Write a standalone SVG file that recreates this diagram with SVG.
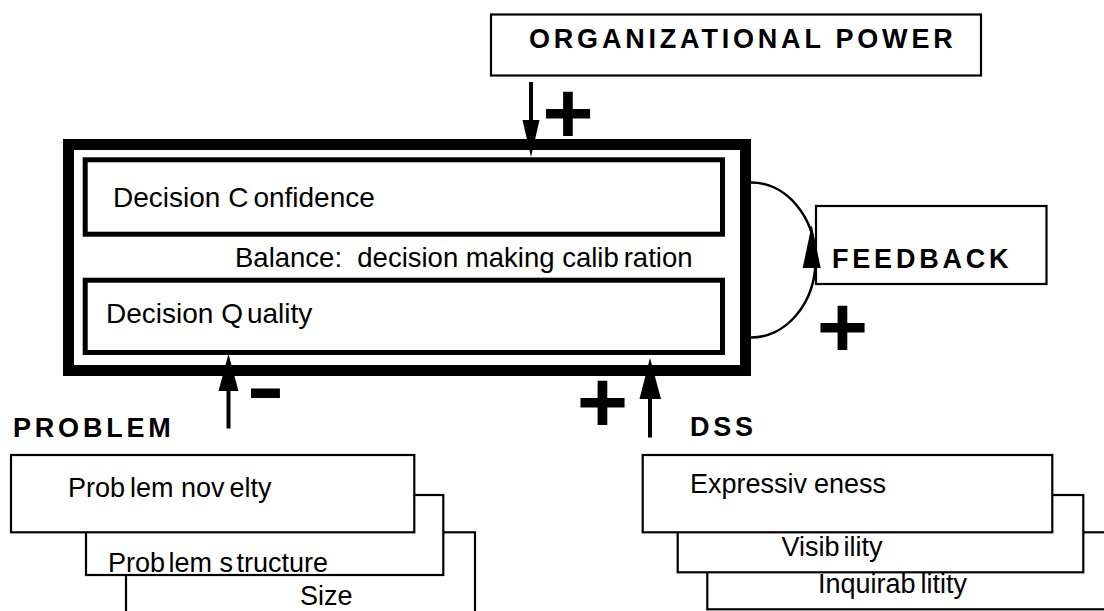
<svg xmlns="http://www.w3.org/2000/svg" width="1104" height="611" viewBox="0 0 1104 611">
  <style>
    .frame { fill: none; stroke: #000; }
    .box { fill: #fff; stroke: #000; stroke-width: 2.2; }
    .txt { font-family: "Liberation Sans", Arial, sans-serif; fill: #000; }
    .lbl { font-family: "Liberation Sans", Arial, sans-serif; font-weight: bold; font-size: 27px; letter-spacing: 3.8px; fill: #000; }
    .sign { font-family: "Liberation Sans", Arial, sans-serif; font-weight: bold; fill: #000; }
    .wire { fill: none; stroke: #000; }
  </style>
  <rect width="1104" height="611" fill="#fff"/>

  <!-- external influence: organizational power -->
  <g id="org-power">
    <rect class="box" x="491" y="14.5" width="490" height="61"/>
    <text class="lbl" x="529" y="48">ORGANIZATIONAL POWER</text>
  </g>

  <!-- central decision frame -->
  <g id="decision-frame">
    <rect class="frame" x="68.5" y="144.5" width="677" height="226" stroke-width="11"/>
    <text class="txt" x="235" y="267" font-size="27.5" xml:space="preserve">Balance:  decision making calib<tspan dx="5">ration</tspan></text>
  </g>
  <g id="decision-confidence">
    <rect class="frame" x="85.2" y="159.8" width="637.3" height="74.4" stroke-width="5"/>
    <text class="txt" x="113" y="207" font-size="28">Decision C<tspan dx="5">onfidence</tspan></text>
  </g>
  <g id="decision-quality">
    <rect class="frame" x="85.2" y="280.2" width="637.3" height="72.3" stroke-width="5"/>
    <text class="txt" x="106" y="323" font-size="28">Decision Q<tspan dx="4">uality</tspan></text>
  </g>

  <!-- feedback -->
  <g id="feedback">
    <rect class="box" x="816" y="206" width="230.5" height="78"/>
    <text class="lbl" x="832" y="268" letter-spacing="3.4">FEEDBACK</text>
  </g>

  <!-- problem characteristics -->
  <g id="problem">
    <text class="lbl" x="13" y="437">PROBLEM</text>
    <rect class="box" x="126" y="532.3" width="349" height="110"/>
    <text class="txt" x="300" y="605" font-size="27">Size</text>
    <rect class="box" x="86" y="495" width="357.3" height="80"/>
    <text class="txt" x="108" y="571.5" font-size="27">Prob<tspan dx="3.5">lem s</tspan><tspan dx="3.5">tructure</tspan></text>
    <rect class="box" x="11" y="455" width="403.3" height="77.3"/>
    <text class="txt" x="68" y="496.5" font-size="27">Prob<tspan dx="5">lem nov</tspan><tspan dx="5">elty</tspan></text>
  </g>

  <!-- DSS characteristics -->
  <g id="dss">
    <text class="lbl" x="690" y="436">DSS</text>
    <rect class="box" x="707.3" y="532.3" width="420" height="77"/>
    <text class="txt" x="818" y="592.5" font-size="27">Inquirab<tspan dx="5">litity</tspan></text>
    <rect class="box" x="677.7" y="495" width="405.6" height="77.3"/>
    <text class="txt" x="781.5" y="555.5" font-size="27">Visib<tspan dx="4">ility</tspan></text>
    <rect class="box" x="642.7" y="455" width="409.6" height="77.3"/>
    <text class="txt" x="690" y="493" font-size="27">Expressiv<tspan dx="7">eness</tspan></text>
  </g>

  <!-- influence arrows and their signs -->
  <g id="connectors">
    <line class="wire" x1="531" y1="82" x2="531" y2="124" stroke-width="4"/>
    <polygon points="522.5,120 539.5,120 531,157"/>
    <text class="sign" x="568" y="143" font-size="88" text-anchor="middle">+</text>

    <line class="wire" x1="228.5" y1="428.5" x2="228.5" y2="388" stroke-width="4"/>
    <polygon points="218.5,391 238.5,391 228.5,354"/>
    <text class="sign" x="265.5" y="414" font-size="80" text-anchor="middle" textLength="38" lengthAdjust="spacingAndGlyphs">-</text>

    <line class="wire" x1="650" y1="437.5" x2="650" y2="396" stroke-width="4"/>
    <polygon points="639.5,399 661,399 650,358"/>
    <text class="sign" x="602.5" y="432" font-size="88" text-anchor="middle">+</text>

    <path class="wire" d="M751,182.5 A64.5,77.5 0 0 1 751,337.5" stroke-width="2.5"/>
    <polygon points="811.7,225 802.7,268 820.7,268"/>
    <text class="sign" x="842.5" y="357" font-size="88" text-anchor="middle">+</text>
  </g>
</svg>
